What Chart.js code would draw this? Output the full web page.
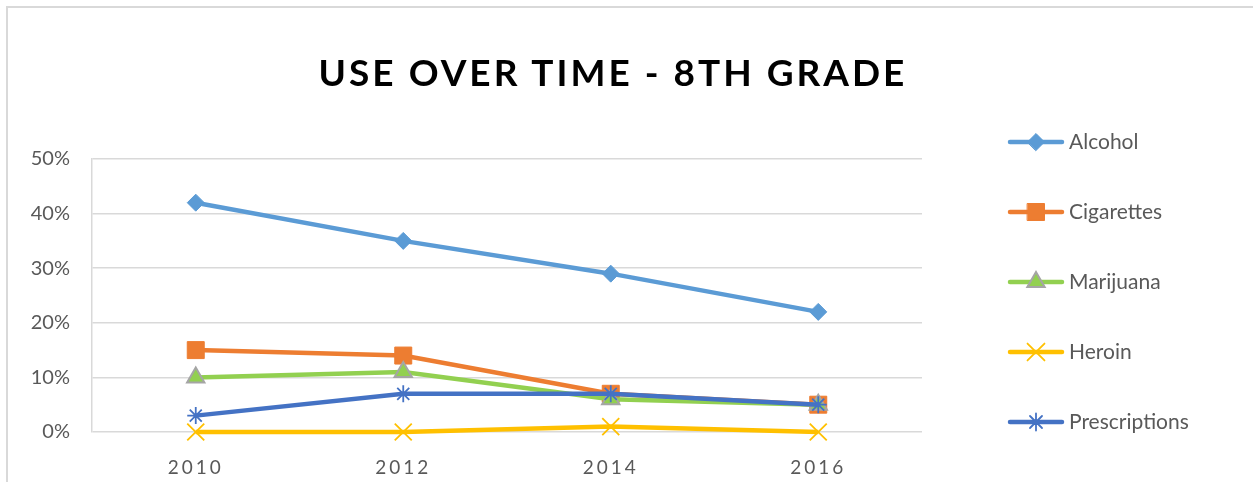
<!DOCTYPE html>
<html lang="en">
<head>
<meta charset="UTF-8">
<title>Use over time - 8th grade</title>
<script src="https://cdn.jsdelivr.net/npm/chart.js"></script>
<style>
  html, body { margin: 0; padding: 0; background: #fff; }
  .quadro { position: relative; width: 1253px; height: 482px; overflow: hidden; }
  .moldura { position: absolute; left: 6px; top: 6px; width: 1400px; height: 700px;
             border-left: 2px solid #d9d9d9; border-top: 2px solid #d9d9d9; }
  .titulo { position: absolute; left: 0; top: 49px; width: 1226px; text-align: center;
            font: bold 37px Lato, sans-serif; letter-spacing: 3px; color: #000; }
  canvas { position: absolute; left: 0; top: 0; }
</style>
</head>
<body>
<div class="quadro">
  <div class="moldura"></div>
  <canvas id="grafico" width="1253" height="482"></canvas>
  <div class="titulo">USE OVER TIME - 8TH GRADE</div>
</div>

<script>
  // dados (em %)
  const anos = ['2010', '2012', '2014', '2016'];
  const alcool = [42, 35, 29, 22];
  const cigarros = [15, 14, 7, 5];
  const maconha = [10, 11, 6, 5];
  const heroina = [0, 0, 1, 0];
  const receitas = [3, 7, 7, 5];
  const ticksY = [0, 10, 20, 30, 40, 50];

  // legenda desenhada a direita: linha + marcador + nome
  const legendaLateral = {
    id: 'legendaLateral',
    afterDraw(chart) {
      const ctx = chart.ctx;
      const desenha = Chart.helpers && Chart.helpers.drawPoint;
      chart.data.datasets.forEach((ds, i) => {
        const y = 142 + i * 70;
        ctx.save();
        ctx.strokeStyle = ds.borderColor;
        ctx.lineWidth = 4.5;
        ctx.lineCap = 'round';
        ctx.beginPath();
        ctx.moveTo(1010, y);
        ctx.lineTo(1062, y);
        ctx.stroke();
        if (desenha) {
          ctx.fillStyle = ds.pointBackgroundColor;
          ctx.strokeStyle = ds.pointBorderColor;
          ctx.lineWidth = ds.pointBorderWidth;
          desenha(ctx, { pointStyle: ds.pointStyle, radius: ds.pointRadius, rotation: 0, borderWidth: ds.pointBorderWidth }, 1036, y);
        }
        ctx.fillStyle = '#595959';
        ctx.font = '21px Lato, sans-serif';
        ctx.textBaseline = 'middle';
        ctx.fillText(ds.label, 1069, y);
        ctx.restore();
      });
    }
  };

  // anos do eixo x com letras espacadas
  const espacoAnos = {
    id: 'espacoAnos',
    afterLayout(chart) {
      const s = chart.scales.x;
      if (s._espacado) return;
      const original = s.drawLabels.bind(s);
      s.drawLabels = function (area) {
        this.ctx.save();
        this.ctx.letterSpacing = '3px';
        original(area);
        this.ctx.restore();
      };
      s._espacado = true;
    }
  };

  function serie(nome, valores, cor, estilo, raio, corBorda, larguraBorda, ordem) {
    return {
      label: nome,
      data: valores,
      borderColor: cor,
      backgroundColor: cor,
      borderWidth: 4.5,
      tension: 0,
      clip: false,
      pointStyle: estilo,
      pointRadius: raio,
      pointHoverRadius: raio,
      pointBackgroundColor: cor,
      pointBorderColor: corBorda,
      pointBorderWidth: larguraBorda,
      order: ordem
    };
  }

  new Chart(document.getElementById('grafico'), {
    type: 'line',
    data: {
      labels: anos,
      datasets: [
        serie('Alcohol', alcool, '#5b9bd5', 'rectRot', 8.5, '#5b9bd5', 1, 4),
        serie('Cigarettes', cigarros, '#ed7d31', 'rect', 12, '#ed7d31', 1, 3),
        serie('Marijuana', maconha, '#92d050', 'triangle', 10, '#a5a5a5', 2, 2),
        serie('Heroin', heroina, '#ffc000', 'crossRot', 12, '#ffc000', 1.8, 1),
        serie('Prescriptions', receitas, '#4472c4', 'star', 8.5, '#4472c4', 1.8, 0)
      ]
    },
    options: {
      responsive: false,
      animation: false,
      layout: { padding: { top: 159, right: 331, bottom: 0, left: 0 } },
      plugins: {
        legend: { display: false },
        title: { display: false },
        tooltip: { enabled: false }
      },
      scales: {
        x: {
          offset: true,
          grid: { display: false },
          border: { display: false },
          ticks: { color: '#595959', font: { family: 'Lato', size: 19 }, padding: 16 },
          afterFit(scale) { scale.height = 50; }
        },
        y: {
          min: 0,
          max: 50,
          afterBuildTicks(scale) { scale.ticks = ticksY.map(v => ({ value: v })); },
          grid: { color: '#d9d9d9', lineWidth: 1.5, drawTicks: false },
          border: { display: true, color: '#d9d9d9', width: 1.5 },
          ticks: {
            color: '#595959',
            font: { family: 'Lato', size: 20 },
            padding: 22,
            callback: v => v + '%'
          },
          afterFit(scale) { scale.width = 92; }
        }
      }
    },
    plugins: [legendaLateral, espacoAnos]
  });
</script>
</body>
</html>
